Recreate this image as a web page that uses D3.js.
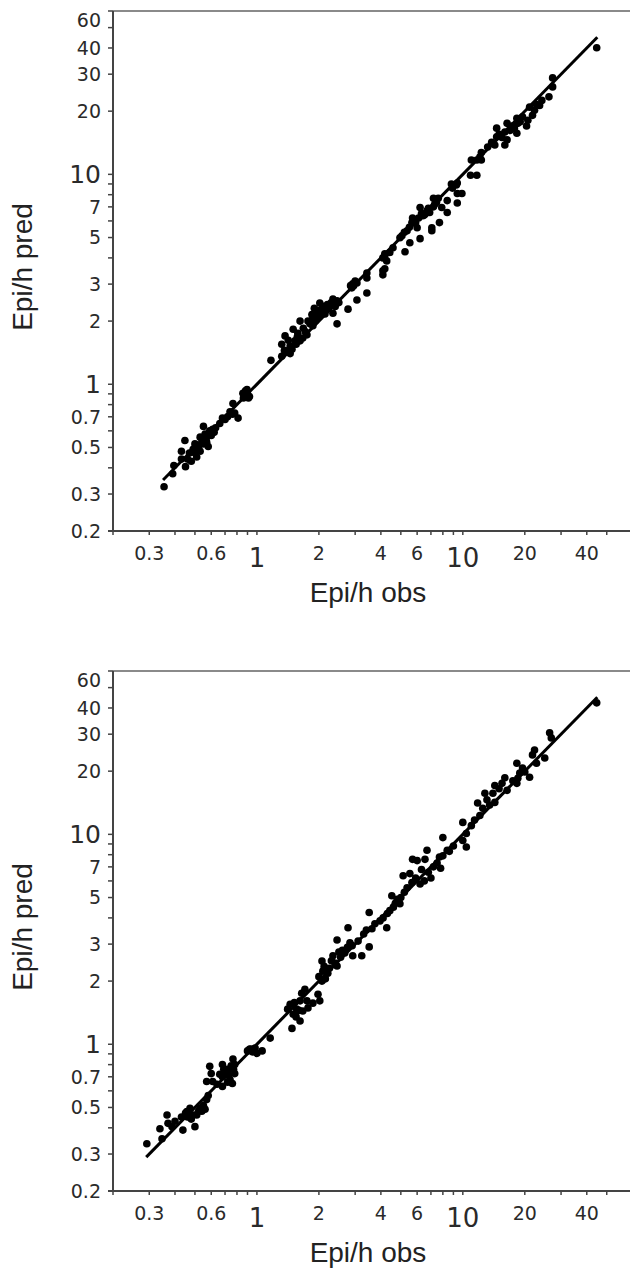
<!DOCTYPE html>
<html>
<head>
<meta charset="utf-8">
<script src="https://cdn.jsdelivr.net/npm/d3@7"></script>
<style>
  html, body { margin: 0; padding: 0; background: #fff; }
</style>
</head>
<body>
<div id="chart"></div>
<script>
const TOP_POINTS = [
  [0.354,0.325],[0.395,0.41],[0.39,0.375],[0.447,0.54],[0.43,0.48],[0.45,0.405],[0.46,0.44],[0.49,0.49],
  [0.51,0.45],[0.53,0.48],[0.55,0.63],[0.56,0.58],[0.57,0.53],[0.58,0.505],[0.53,0.56],[0.50,0.52],
  [0.59,0.60],[0.61,0.61],[0.66,0.65],[0.70,0.68],[0.72,0.70],[0.765,0.81],[0.78,0.73],[0.81,0.69],
  [0.76,0.72],[0.855,0.905],[0.895,0.945],[0.92,0.875],[0.90,0.90],[0.875,0.875],
  [0.47,0.47],[0.52,0.50],[0.55,0.52],[0.60,0.57],[0.62,0.59],[0.48,0.43],[0.43,0.44],[0.88,0.93],[0.91,0.86],
  [0.50,0.47],[0.54,0.53],[0.57,0.56],[0.63,0.62],[0.68,0.69],[0.74,0.74],[0.86,0.86],[0.89,0.88],
  [1.17,1.30],[1.32,1.36],[1.40,1.44],[1.45,1.52],[1.32,1.55],[1.37,1.70],[1.50,1.83],[1.62,2.0],
  [1.58,1.75],[1.62,1.61],[1.67,1.66],[1.48,1.47],[1.53,1.61],[1.81,1.94],[1.87,2.07],[1.95,2.18],
  [2.02,2.44],[2.07,2.28],[2.14,2.16],[2.19,2.28],[2.26,2.36],[2.34,2.55],[2.45,2.50],[2.45,1.94],
  [2.34,2.18],[1.87,1.90],[1.77,2.0],[2.77,2.28],[2.89,2.88],[2.92,3.01],[3.06,3.04],[3.06,2.52],
  [3.42,2.72],[3.42,3.39],[3.42,3.21],[4.09,4.0],[4.18,4.18],[4.09,3.47],[4.09,3.32],[4.42,4.24],
  [4.95,4.99],[4.58,4.47],[4.27,3.87],
  [1.45,1.40],[1.55,1.55],[1.72,1.78],[1.92,2.0],[2.0,2.1],[2.1,2.35],[2.3,2.45],[2.4,2.35],
  [1.85,2.15],[2.2,2.4],[2.95,2.95],[2.85,2.95],[3.0,3.1],
  [1.36,1.45],[1.42,1.62],[1.57,1.68],[1.68,1.85],[1.75,1.72],[1.97,2.25],[2.05,2.2],[2.12,2.3],
  [2.28,2.42],[2.38,2.48],[2.5,2.45],[1.9,2.3],
  [4.18,4.10],[4.18,3.55],[5.24,4.28],[5.53,4.72],[5.06,5.10],[5.36,5.39],[5.66,5.89],[6.2,4.94],
  [6.0,5.57],[6.4,6.35],[6.7,6.7],[7.07,5.57],[7.07,5.39],[6.9,6.58],[7.45,7.35],[7.7,5.89],
  [7.9,6.95],[8.4,6.58],[8.4,7.5],[9.4,7.3],[9.3,8.9],[9.9,8.1],[11.7,9.9],[6.2,6.95],[5.7,6.2],
  [5.9,5.9],[6.1,6.2],[6.5,6.4],[7.2,7.0],[5.5,5.6],
  [5.2,5.3],[5.8,6.0],[6.3,6.5],[6.6,6.5],[6.8,6.9],[7.3,7.2],
  [44.7,40.1],[27.3,28.8],[27.3,26.1],[26.2,23.4],[23.6,21.3],[24.2,22.5],[21.8,19.1],[22.3,20.2],
  [20.7,18.1],[20.4,17.0],[21.1,20.9],[18.3,18.5],[18.5,17.5],[18.3,15.7],[17.8,16.6],[16.4,17.5],
  [16.0,15.9],[16.4,14.6],[16.0,13.8],[14.6,16.6],[14.6,15.1],[14.3,13.8],[13.2,13.5],[12.3,12.7],
  [12.1,12.1],[11.7,11.7],[11.0,11.7],[12.3,11.7],[10.9,9.9],[9.4,9.1],[8.8,9.0],[9.4,8.1],
  [8.9,8.6],[7.2,7.7],[7.6,7.7],
  [15.0,15.5],[17.0,16.2],[19.5,18.8],[13.8,14.2],[15.5,15.0],[17.3,17.0],[19.0,17.8],[22.8,21.5]
];

const BOTTOM_POINTS = [
  [0.292,0.336],[0.338,0.396],[0.346,0.355],[0.366,0.46],[0.37,0.42],[0.387,0.405],[0.43,0.45],[0.437,0.39],
  [0.457,0.478],[0.473,0.495],[0.49,0.46],[0.50,0.405],[0.53,0.495],[0.56,0.49],[0.57,0.545],[0.57,0.665],
  [0.59,0.785],[0.60,0.725],[0.61,0.665],[0.64,0.645],[0.68,0.80],[0.68,0.70],[0.68,0.63],[0.715,0.76],
  [0.74,0.68],[0.76,0.65],[0.765,0.85],[0.78,0.725],[0.78,0.80],[0.90,0.93],[0.955,0.946],[1.0,0.905],
  [1.06,0.93],[1.16,1.07],[1.48,1.19],[1.50,1.39],[1.56,1.47],[1.62,1.29],[1.67,1.44],[1.75,1.61],[1.87,1.57],
  [0.45,0.47],[0.48,0.44],[0.52,0.48],[0.55,0.51],[0.58,0.57],[0.70,0.74],[0.72,0.66],[0.75,0.79],
  [0.93,0.95],[0.98,0.96],[0.40,0.43],
  [0.46,0.45],[0.51,0.46],[0.54,0.48],[0.66,0.72],[0.69,0.76],[0.73,0.71],[0.77,0.76],[0.95,0.92],
  [0.92,0.946],[1.41,1.47],[1.62,1.61],[1.71,1.83],[1.77,1.49],[1.98,1.73],[2.02,1.61],[2.07,2.0],
  [2.07,2.49],[2.09,2.23],[2.21,2.18],[2.34,2.64],[2.39,2.44],[2.45,3.14],[2.45,2.36],[2.67,2.72],
  [2.77,3.59],[2.83,3.04],[2.92,2.64],[3.23,2.64],[3.51,4.24],[3.51,2.91],[3.62,3.55],[3.74,3.75],
  [3.96,3.87],[4.27,3.59],[4.42,4.33],[4.52,5.10],[4.95,4.67],[5.13,6.35],[5.36,5.57],[5.66,5.89],
  [6.0,7.5],[5.53,6.5],
  [1.45,1.55],[1.55,1.35],[1.65,1.75],[2.15,2.05],[2.25,2.3],[2.55,2.6],[2.6,2.8],[2.9,2.95],
  [3.1,3.1],[3.3,3.35],[4.1,4.0],[4.6,4.5],[4.8,4.9],[5.0,5.0],[5.2,5.3],
  [1.52,1.58],[1.6,1.45],[2.0,2.1],[2.12,2.35],[2.3,2.5],[2.5,2.75],[2.75,2.9],[3.4,3.5],[4.3,4.2],[4.7,4.7],
  [44.7,42.3],[26.4,30.5],[26.9,28.8],[25.0,23.1],[22.3,25.2],[21.8,23.9],[22.8,21.8],[21.1,18.7],
  [19.5,20.7],[18.9,19.6],[18.3,21.8],[18.3,17.5],[18.5,18.5],[16.0,18.6],[16.4,16.2],[15.5,17.5],
  [14.3,17.1],[14.0,15.7],[14.3,14.2],[12.8,15.7],[13.1,14.6],[12.5,13.3],[11.8,14.1],[12.1,12.3],
  [11.4,11.7],[11.0,11.0],[10.0,11.4],[10.4,10.1],[10.0,9.35],[10.4,8.7],[8.0,9.65],[8.4,8.4],
  [7.7,7.8],[6.7,8.4],[6.55,7.6],[5.7,7.6],
  [6.3,6.8],[6.8,6.6],[7.2,7.0],[7.5,7.3],[7.0,6.2],[6.5,6.0],[8.0,7.9],[8.6,8.3],
  [9.0,8.8],[7.8,6.9],[6.2,5.8],[5.9,6.2],[15.0,16.5],[17.5,18.0],[20.0,19.8],[13.5,13.8]
];

// fitted line (y = x) endpoints in each panel
const FIT_TOP = [0.35, 45];
const FIT_BOTTOM = [0.29, 45];

const X_TICKS = [0.3, 0.6, 1, 2, 4, 6, 10, 20, 40];
const X_MINOR = [0.2, 0.4, 0.5, 0.7, 0.8, 0.9, 3, 5, 7, 8, 9, 30, 50];
const Y_TICKS = [0.2, 0.3, 0.5, 0.7, 1, 2, 3, 5, 7, 10, 20, 30, 40, 60];
const Y_MINOR = [0.4, 0.6, 0.8, 0.9, 4, 6, 8, 9, 50];
const BIG_TICKS = [1, 10];

const W = 630, H = 1271;
const PANEL_OFFSET = 660;
const LEFT = 113, TOP = 11, BOTTOM = 531;

const svg = d3.select("#chart").append("svg")
  .attr("width", W)
  .attr("height", H)
  .style("display", "block")
  .style("background", "#fff");

const x = d3.scaleLog().domain([0.2, 60]).range([LEFT, LEFT + 205.9 * Math.log10(300)]);
const y = d3.scaleLog().domain([0.2, 60]).range([BOTTOM, TOP]);

function drawPanel(offset, points, fit) {
  const g = svg.append("g").attr("transform", `translate(0,${offset})`);

  // frame: top line and the two axis lines
  g.append("line")
    .attr("x1", LEFT).attr("x2", W).attr("y1", TOP).attr("y2", TOP)
    .attr("stroke", "#8a8a8a").attr("stroke-width", 2);
  g.append("line")
    .attr("x1", LEFT).attr("x2", LEFT).attr("y1", TOP).attr("y2", BOTTOM)
    .attr("stroke", "#444").attr("stroke-width", 2);
  g.append("line")
    .attr("x1", LEFT - 5).attr("x2", W).attr("y1", BOTTOM).attr("y2", BOTTOM)
    .attr("stroke", "#444").attr("stroke-width", 2);

  // x ticks
  const xt = g.append("g").attr("stroke", "#444").attr("stroke-width", 1.5);
  xt.selectAll("line")
    .data(X_TICKS.concat(X_MINOR))
    .join("line")
      .attr("x1", d => x(d)).attr("x2", d => x(d))
      .attr("y1", BOTTOM).attr("y2", BOTTOM + 4);

  g.append("g")
    .attr("font-family", "'DejaVu Sans', sans-serif")
    .attr("fill", "#2a2a2a")
    .attr("text-anchor", "middle")
    .selectAll("text")
    .data(X_TICKS)
    .join("text")
      .attr("x", d => x(d))
      .attr("y", d => BIG_TICKS.includes(d) ? BOTTOM + 36 : BOTTOM + 29)
      .attr("font-size", d => BIG_TICKS.includes(d) ? 26 : 19)
      .text(d => d);

  // y ticks
  const yt = g.append("g").attr("stroke", "#444").attr("stroke-width", 1.5);
  yt.selectAll("line")
    .data(Y_TICKS.concat(Y_MINOR))
    .join("line")
      .attr("x1", LEFT - 5).attr("x2", LEFT)
      .attr("y1", d => y(d)).attr("y2", d => y(d));

  g.append("g")
    .attr("font-family", "'DejaVu Sans', sans-serif")
    .attr("fill", "#2a2a2a")
    .attr("text-anchor", "end")
    .selectAll("text")
    .data(Y_TICKS)
    .join("text")
      .attr("x", 101)
      .attr("y", d => Math.max(y(d), TOP + 9))
      .attr("dy", "0.36em")
      .attr("font-size", d => BIG_TICKS.includes(d) ? 25 : 19)
      .text(d => d);

  // axis titles
  g.append("text")
    .attr("x", 368).attr("y", 602)
    .attr("text-anchor", "middle")
    .attr("font-family", "'Liberation Sans', Arial, sans-serif")
    .attr("font-size", 28)
    .attr("fill", "#222")
    .text("Epi/h obs");

  g.append("text")
    .attr("transform", "translate(32,267) rotate(-90)")
    .attr("text-anchor", "middle")
    .attr("font-family", "'Liberation Sans', Arial, sans-serif")
    .attr("font-size", 28)
    .attr("fill", "#222")
    .text("Epi/h pred");

  // fitted line
  g.append("line")
    .attr("x1", x(fit[0])).attr("y1", y(fit[0]))
    .attr("x2", x(fit[1])).attr("y2", y(fit[1]))
    .attr("stroke", "#000").attr("stroke-width", 3);

  // points
  g.append("g")
    .selectAll("circle")
    .data(points)
    .join("circle")
      .attr("cx", d => x(d[0]))
      .attr("cy", d => y(d[1]))
      .attr("r", 3.8)
      .attr("fill", "#000");
}

drawPanel(0, TOP_POINTS, FIT_TOP);
drawPanel(PANEL_OFFSET, BOTTOM_POINTS, FIT_BOTTOM);
</script>
</body>
</html>
